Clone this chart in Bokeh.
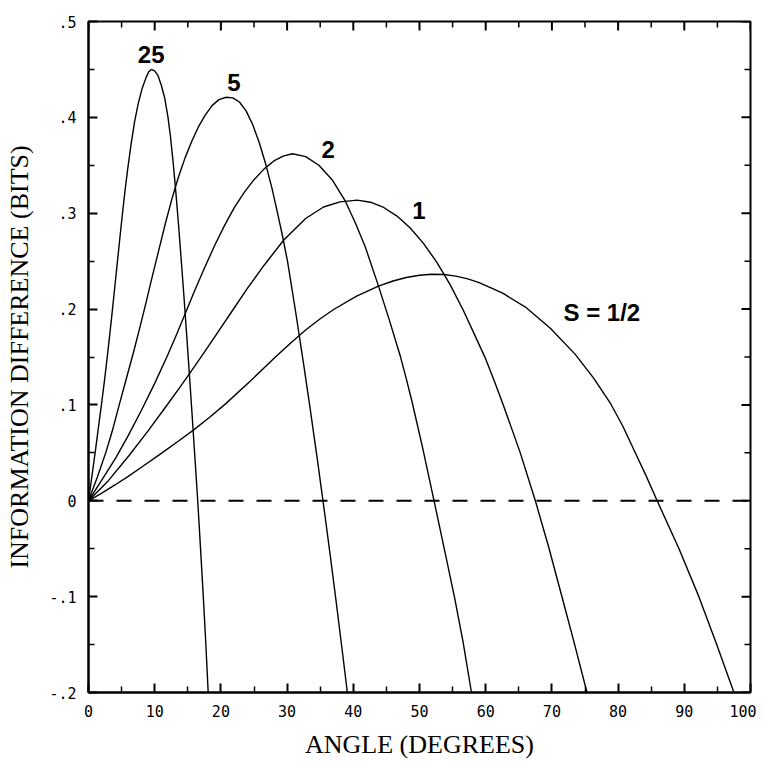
import math
from bokeh.plotting import figure
from bokeh.models import FixedTicker, Range1d, ColumnDataSource
from bokeh.embed import file_html
from bokeh.resources import INLINE
from bokeh.core.properties import value

# ---- tick data ----
x_ticks = [0, 10, 20, 30, 40, 50, 60, 70, 80, 90, 100]
x_minor = [5, 15, 25, 35, 45, 55, 65, 75, 85, 95]
x_tick_labels = ["0", "10", "20", "30", "40", "50", "60", "70", "80", "90", "100"]
y_ticks = [-0.2, -0.1, 0.0, 0.1, 0.2, 0.3, 0.4, 0.5]
y_minor = [-0.15, -0.05, 0.05, 0.15, 0.25, 0.35, 0.45]
y_tick_labels = ["-.2", "-.1", "0", ".1", ".2", ".3", ".4", ".5"]

# ---- curves (angle in degrees, information difference in bits) ----
s25_x = [0, 0.5, 1.0, 1.5, 1.95, 2.4, 2.8, 3.2, 3.55, 3.95, 4.3, 4.7, 5.05, 5.5, 5.9, 6.4, 6.95, 7.5, 8.1, 8.75, 9.1, 9.47,
         10.0, 10.5, 11.0, 11.5, 12.0, 12.4, 12.8, 13.2, 13.6, 14.0, 14.4, 14.8, 15.2, 15.6, 16.0, 16.5, 16.9, 17.3, 17.7, 18.08]
s25_y = [0, 0.025, 0.05, 0.0765, 0.10, 0.1245, 0.148, 0.1725, 0.195, 0.2215, 0.245, 0.2715, 0.2945, 0.3225, 0.345, 0.3705, 0.395, 0.414, 0.430, 0.4425, 0.4475, 0.450,
         0.4485, 0.4435, 0.4335, 0.4205, 0.4005, 0.379, 0.352, 0.3215, 0.288, 0.252, 0.215, 0.176, 0.136, 0.095, 0.053, 0.0, -0.047, -0.095, -0.146, -0.20]

s5_x = [0, 1.3, 2.6, 3.6, 4.6, 5.7, 6.8, 7.8, 8.7, 9.6, 10.6, 11.6, 12.6, 13.6, 14.6, 15.6, 16.6, 17.6, 18.7, 19.7, 20.8,
        21.8, 22.8, 23.8, 24.8, 25.8, 26.8, 27.7, 28.5, 29.3, 30.06, 31.27, 32.5, 33.4, 34.6, 35.65, 36.5, 37.4, 38.3, 39.1]
s5_y = [0, 0.024, 0.050, 0.073, 0.099, 0.127, 0.155, 0.182, 0.207, 0.233, 0.261, 0.289, 0.315, 0.338, 0.358, 0.375, 0.390, 0.402, 0.4125, 0.4185, 0.421,
        0.4203, 0.4160, 0.4068, 0.3925, 0.3735, 0.3505, 0.3265, 0.302, 0.2765, 0.25, 0.198, 0.1424, 0.1001, 0.0416, -0.0117, -0.0562, -0.1047, -0.1546, -0.20]

s2_x = [0, 2, 4.1, 6, 8, 10, 11.9, 13.3, 14.65, 16.0, 17.5, 19.0, 20.5, 22.0, 23.5, 25.0, 26.5, 28.0, 29.4, 30.8,
        32.8, 34.8, 36.8, 38.8, 40.3, 41.8, 43.76, 45.4, 47.13, 48.0, 48.9, 50.5, 52.2, 53.8, 55.3, 56.6, 57.85]
s2_y = [0, 0.0215, 0.0445, 0.068, 0.0945, 0.1225, 0.151, 0.1735, 0.196, 0.2185, 0.2425, 0.2655, 0.2865, 0.3055, 0.3215, 0.335, 0.346, 0.3545, 0.3596, 0.362,
        0.359, 0.350, 0.335, 0.3125, 0.290, 0.265, 0.225, 0.1895, 0.1502, 0.1275, 0.1025, 0.0545, 0.0, -0.052, -0.101, -0.148, -0.20]

s1_x = [0, 3.0, 6.1, 9.0, 11.4, 13.5, 15.4, 17.4, 19.5, 21.7, 24.0, 26.5, 29.5, 32.8, 35.5, 38.0, 40.6,
        42.6, 44.6, 46.6, 48.6, 50.6, 52.6, 54.6, 56.6, 58.4, 60.0, 61.3, 62.6, 65.2, 67.5, 69.5, 71.4, 73.4, 75.3]
s1_y = [0, 0.021, 0.047, 0.073, 0.0955, 0.1155, 0.134, 0.154, 0.1755, 0.198, 0.2215, 0.2455, 0.272, 0.2945, 0.3065, 0.3118, 0.3136,
        0.3115, 0.3060, 0.2970, 0.2845, 0.2685, 0.2490, 0.2258, 0.1990, 0.172, 0.148, 0.125, 0.101, 0.0505, 0.0, -0.048, -0.097, -0.149, -0.20]

s05_x = [0, 2, 4, 6, 8, 11.1, 13.5, 15.9, 18.3, 20.7, 24.5, 28.2, 30.5, 32.8, 35.0, 37.1, 40.5, 43.8, 46.0, 48.0, 50.0, 51.9,
         53.7, 55.5, 57.3, 59.0, 62.5, 66.0, 69.8, 73.5, 76.3, 78.9, 80.7, 82.4, 84.2, 85.9, 89.2, 92.2, 94.8, 97.5]
s05_y = [0, 0.008, 0.0165, 0.0255, 0.035, 0.050, 0.0618, 0.074, 0.0872, 0.1011, 0.1253, 0.1497, 0.1644, 0.1782, 0.1899, 0.1998, 0.2134, 0.224, 0.2293, 0.2329, 0.2353, 0.2364,
         0.2360, 0.2344, 0.2315, 0.2276, 0.2168, 0.2021, 0.1797, 0.153, 0.128, 0.101, 0.078, 0.053, 0.0265, 0.0, -0.05, -0.10, -0.148, -0.20]

zero_x = [0, 100]
zero_y = [0, 0]

# ---- curve labels ----
lab_text = ["25", "5", "2", "1", "S = 1/2"]
lab_x = [9.47, 21.95, 36.2, 49.9, 71.75]
lab_y = [0.4656, 0.4364, 0.3665, 0.303, 0.196]
lab_align = ["center", "center", "center", "center", "left"]

p = figure(
    frame_width=662, frame_height=671,
    x_range=Range1d(0, 100), y_range=Range1d(-0.2, 0.5),
    output_backend="svg", toolbar_location=None,
    min_border_left=88, min_border_top=21, min_border_right=6, min_border_bottom=67,
    background_fill_color="white", border_fill_color="white",
)
p.grid.visible = False
p.outline_line_color = "black"
p.outline_line_width = 2

def style_axis(ax, ticks, minor, labels_list):
    ax.ticker = FixedTicker(ticks=ticks, minor_ticks=minor)
    ax.axis_line_color = "black"
    ax.axis_line_width = 2
    ax.major_tick_in = 9
    ax.major_tick_out = 0
    ax.minor_tick_in = 6
    ax.minor_tick_out = 0
    ax.major_tick_line_width = 2
    ax.minor_tick_line_width = 1.5
    ax.major_tick_line_color = "black"
    ax.minor_tick_line_color = "black"
    ax.major_label_overrides = {t: l for t, l in zip(ticks, labels_list)}
    ax.major_label_text_font = "DejaVu Sans Mono"
    ax.major_label_text_font_size = "15px"
    ax.major_label_text_color = "black"
    ax.axis_label_text_font = "Liberation Serif"
    ax.axis_label_text_font_style = "normal"
    ax.axis_label_text_font_size = "26px"
    ax.axis_label_text_color = "black"

style_axis(p.xaxis[0], x_ticks, x_minor, x_tick_labels)
style_axis(p.yaxis[0], y_ticks, y_minor, y_tick_labels)
p.xaxis[0].major_label_standoff = 12
p.yaxis[0].major_label_standoff = 12
p.xaxis[0].axis_label = "ANGLE (DEGREES)"
p.xaxis[0].axis_label_standoff = 10
p.yaxis[0].axis_label = "INFORMATION DIFFERENCE (BITS)"
p.yaxis[0].axis_label_standoff = 12

# inward ticks on the top and right frame edges (clipped to the frame)
top_y = y_ticks[-1]
right_x = x_ticks[-1]
p.scatter(x_ticks, [top_y] * len(x_ticks), marker="dash", size=18, angle=math.pi / 2,
          line_color="black", line_width=2)
p.scatter(x_minor, [top_y] * len(x_minor), marker="dash", size=12, angle=math.pi / 2,
          line_color="black", line_width=1.5)
p.scatter([right_x] * len(y_ticks), y_ticks, marker="dash", size=18,
          line_color="black", line_width=2)
p.scatter([right_x] * len(y_minor), y_minor, marker="dash", size=12,
          line_color="black", line_width=1.5)

p.line(zero_x, zero_y, line_color="black", line_width=2, line_dash="15 13")

for xs, ys in [(s25_x, s25_y), (s5_x, s5_y), (s2_x, s2_y), (s1_x, s1_y), (s05_x, s05_y)]:
    p.line(xs, ys, line_color="black", line_width=1.4, line_join="round")

src = ColumnDataSource(dict(x=lab_x, y=lab_y, t=lab_text, a=lab_align))
p.text(x="x", y="y", text="t", source=src, text_align="a", text_baseline="middle",
       text_font=value("Liberation Sans"), text_font_size="24px", text_font_style="bold",
       text_color="black")

open("out.html", "w").write(file_html(p, INLINE))
